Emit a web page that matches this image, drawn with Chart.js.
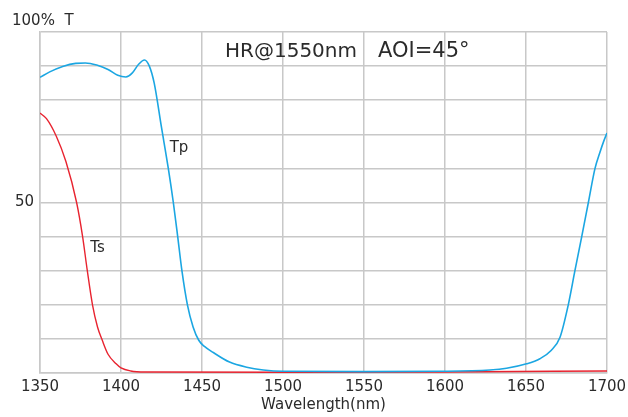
<!DOCTYPE html>
<html>
<head>
<meta charset="utf-8">
<script src="https://cdn.jsdelivr.net/npm/chart.js@4"></script>
<style>
  html, body { margin: 0; padding: 0; background: #fff; }
  canvas { display: block; }
</style>
</head>
<body>
<canvas id="chart" width="628" height="417"></canvas>
<script>
// Transmission curves (wavelength nm, T %)
const tpWavelength = [1350, 1356, 1364, 1372, 1378, 1385, 1392, 1398, 1403, 1407, 1411,
  1414.5, 1417.5, 1420.5, 1425, 1429.2, 1432.3, 1435, 1437.6, 1441, 1444.5, 1448, 1451.5,
  1457, 1467, 1477.6, 1487.8, 1500, 1550, 1597, 1627.8, 1638, 1650.4, 1658.6, 1665.5,
  1671, 1676.1, 1680.2, 1684.4, 1688.5, 1692.6, 1695.5, 1698, 1700];
const tpValues = [86.7, 88.3, 89.9, 90.8, 90.9, 90.3, 89, 87.3, 86.8, 88, 90.6,
  91.8, 90, 85, 72, 60, 50, 40, 30, 20, 13.5, 9.6, 7.8,
  6.0, 3.2, 1.7, 0.9, 0.5, 0.4, 0.5, 0.9, 1.4, 2.7, 4.2, 6.6,
  10.5, 20, 30, 40, 50, 60, 64.5, 68, 70.4];

const tsWavelength = [1350, 1354, 1360, 1366, 1372.6, 1376.3, 1379.2, 1382.4, 1385.5,
  1388.5, 1392, 1397, 1400, 1406, 1415, 1500, 1600, 1700];
const tsValues = [76.2, 74.6, 69.5, 62, 50, 40, 30, 20, 13.5,
  9.5, 5.5, 2.7, 1.5, 0.6, 0.3, 0.2, 0.3, 0.6];

const xTicks = [1350, 1400, 1450, 1500, 1550, 1600, 1650, 1700];
const yLabelled = [50];

const titleLeft = 'HR@1550nm';
const titleRight = 'AOI=45°';
const yCaption = '100%  T';
const xCaption = 'Wavelength(nm)';

// where the curve names sit, in data units
const tpLabelAt = [1435.8, 66];
const tsLabelAt = [1385.5, 36.6];

const FONT = '"DejaVu Sans", Verdana, sans-serif';
const TEXT = '#2b2b2b';
const GRID = '#c8c8c8';

function toPoints(xs, ys) {
  return xs.map((x, i) => ({ x: x, y: ys[i] }));
}

const textPlugin = {
  id: 'texts',
  afterDraw(chart) {
    const ctx = chart.ctx;
    const xs = chart.scales.x, ys = chart.scales.y;
    ctx.save();
    ctx.fillStyle = TEXT;
    ctx.textBaseline = 'alphabetic';
    ctx.textAlign = 'left';

    ctx.font = '20px ' + FONT;
    ctx.fillText(titleLeft, 225, 57);
    ctx.font = '21px ' + FONT;
    ctx.fillText(titleRight, 378, 57);

    ctx.font = '15px ' + FONT;
    ctx.fillText(yCaption, 12, 25);

    ctx.textBaseline = 'middle';
    ctx.textAlign = 'center';
    ctx.fillText('Tp', xs.getPixelForValue(tpLabelAt[0]), ys.getPixelForValue(tpLabelAt[1]));
    ctx.fillText('Ts', xs.getPixelForValue(tsLabelAt[0]), ys.getPixelForValue(tsLabelAt[1]));
    ctx.restore();
  }
};

const bgPlugin = {
  id: 'bg',
  beforeDraw(chart) {
    const ctx = chart.ctx;
    ctx.save();
    ctx.fillStyle = '#fff';
    ctx.fillRect(0, 0, chart.width, chart.height);
    ctx.restore();
  }
};

new Chart(document.getElementById('chart'), {
  type: 'line',
  data: {
    datasets: [
      {
        label: 'Tp',
        data: toPoints(tpWavelength, tpValues),
        borderColor: '#1ba6e2',
        borderWidth: 1.6,
        pointRadius: 0,
        cubicInterpolationMode: 'monotone',
        fill: false
      },
      {
        label: 'Ts',
        data: toPoints(tsWavelength, tsValues),
        borderColor: '#e8232f',
        borderWidth: 1.4,
        pointRadius: 0,
        cubicInterpolationMode: 'monotone',
        fill: false
      }
    ]
  },
  options: {
    responsive: false,
    animation: false,
    devicePixelRatio: 1,
    layout: { padding: { top: 32, right: 21, left: 0, bottom: 0 } },
    plugins: {
      legend: { display: false },
      tooltip: { enabled: false }
    },
    scales: {
      x: {
        type: 'linear',
        min: xTicks[0],
        max: xTicks[xTicks.length - 1],
        afterBuildTicks: (s) => { s.ticks = xTicks.map(v => ({ value: v })); },
        afterFit: (s) => {
          s.height = 44;
          s.paddingLeft = 0;
          s.paddingRight = 0;
        },
        grid: { color: GRID, lineWidth: 1.5, drawTicks: false },
        border: { color: GRID, width: 1.5 },
        ticks: {
          color: TEXT,
          font: { family: FONT, size: 15 },
          padding: 5,
          maxRotation: 0,
          autoSkip: false,
          callback: (v) => String(v)
        },
        title: {
          display: true,
          text: xCaption,
          color: TEXT,
          font: { family: FONT, size: 15 },
          padding: { top: 0, bottom: 3 }
        }
      },
      y: {
        min: 0,
        max: 100,
        ticks: {
          stepSize: 10,
          color: TEXT,
          font: { family: FONT, size: 15 },
          padding: 6,
          callback: (v) => yLabelled.includes(v) ? String(v) : ''
        },
        afterFit: (s) => { s.width = 40; },
        grid: { color: GRID, lineWidth: 1.5, drawTicks: false },
        border: { color: GRID, width: 1.5 }
      }
    }
  },
  plugins: [bgPlugin, textPlugin]
});
</script>
</body>
</html>
